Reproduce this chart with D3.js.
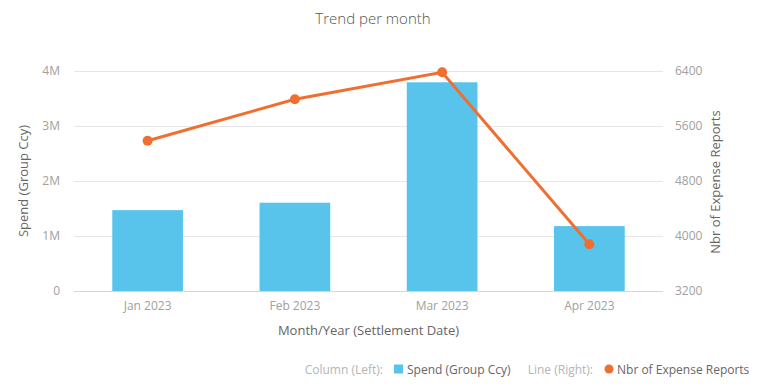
<!DOCTYPE html>
<html>
<head>
<meta charset="utf-8">
<script src="https://cdn.jsdelivr.net/npm/d3@7"></script>
<style>
  body { margin: 0; background: #fff; }
  text { font-family: "Open Sans", "Noto Sans", sans-serif; }
</style>
</head>
<body>
<div id="chart"></div>
<script>
// data
var months = ["Jan 2023", "Feb 2023", "Mar 2023", "Apr 2023"];
var spend = [1470000, 1605000, 3795000, 1180000];
var reports = [5386, 5988, 6381, 3879];
var leftTicks = [0, 1000000, 2000000, 3000000, 4000000];
var leftTickLabels = ["0", "1M", "2M", "3M", "4M"];
var rightTicks = [3200, 4000, 4800, 5600, 6400];

var svgWidth = 768;
var svgHeight = 388;

var margin = { top: 71, right: 105, bottom: 97, left: 74 };
var width = svgWidth - margin.left - margin.right;
var height = svgHeight - margin.top - margin.bottom;

var svg = d3.select("#chart")
  .append("svg")
  .attr("width", svgWidth)
  .attr("height", svgHeight);

var chartGroup = svg.append("g")
  .attr("transform", `translate(${margin.left}, ${margin.top})`);

// scales
var xBand = d3.scaleBand()
  .domain(months)
  .range([0, width])
  .paddingInner(0.52)
  .paddingOuter(0.26);

var xCenter = d => xBand(d) + xBand.bandwidth() / 2;

var yLeft = d3.scaleLinear()
  .domain([0, 4000000])
  .range([height, 0]);

var yRight = d3.scaleLinear()
  .domain([3200, 6400])
  .range([height, 0]);

// gridlines
chartGroup.append("g")
  .selectAll("line")
  .data(leftTicks)
  .enter()
  .append("line")
  .attr("x1", 0)
  .attr("x2", width)
  .attr("y1", d => Math.round(yLeft(d)) + 0.5)
  .attr("y2", d => Math.round(yLeft(d)) + 0.5)
  .attr("stroke", d => d === 0 ? "#d6d6d6" : "#e6e6e6")
  .attr("stroke-width", 1);

// left axis
var leftAxis = d3.axisLeft(yLeft)
  .tickValues(leftTicks)
  .tickFormat((d, i) => leftTickLabels[i])
  .tickSize(0)
  .tickPadding(14);

var gl = chartGroup.append("g").call(leftAxis);
gl.select(".domain").remove();
gl.selectAll("text")
  .attr("fill", "#a0a0a0")
  .style("font-size", "12px");

// right axis
var rightAxis = d3.axisRight(yRight)
  .tickValues(rightTicks)
  .tickFormat(d3.format("d"))
  .tickSize(0)
  .tickPadding(12);

var gr = chartGroup.append("g")
  .attr("transform", `translate(${width}, 0)`)
  .call(rightAxis);
gr.select(".domain").remove();
gr.selectAll("text")
  .attr("fill", "#a0a0a0")
  .style("font-size", "12px");

// bottom axis
var bottomAxis = d3.axisBottom(xBand)
  .tickSize(0)
  .tickPadding(10);

var gb = chartGroup.append("g")
  .attr("transform", `translate(0, ${height})`)
  .call(bottomAxis);
gb.select(".domain").remove();
gb.selectAll("text")
  .attr("fill", "#a0a0a0")
  .style("font-size", "12px");

// bars
chartGroup.selectAll("rect.bar")
  .data(spend)
  .enter()
  .append("rect")
  .attr("class", "bar")
  .attr("x", (d, i) => xBand(months[i]))
  .attr("y", d => yLeft(d))
  .attr("width", xBand.bandwidth())
  .attr("height", d => height - yLeft(d))
  .attr("fill", "#58c4eb");

// line
var line = d3.line()
  .x((d, i) => xCenter(months[i]))
  .y(d => yRight(d));

chartGroup.append("path")
  .datum(reports)
  .attr("d", line)
  .attr("fill", "none")
  .attr("stroke", "#f06f30")
  .attr("stroke-width", 3);

chartGroup.selectAll("circle.pt")
  .data(reports)
  .enter()
  .append("circle")
  .attr("class", "pt")
  .attr("cx", (d, i) => xCenter(months[i]))
  .attr("cy", d => yRight(d))
  .attr("r", 5)
  .attr("fill", "#f06f30");

// title
svg.append("text")
  .attr("x", 373)
  .attr("y", 24)
  .attr("text-anchor", "middle")
  .attr("fill", "#555")
  .style("font-size", "15px")
  .style("font-weight", 300)
  .text("Trend per month");

// axis titles
svg.append("text")
  .attr("transform", `translate(28, 181) rotate(-90)`)
  .attr("text-anchor", "middle")
  .attr("fill", "#666")
  .style("font-size", "13px")
  .text("Spend (Group Ccy)");

svg.append("text")
  .attr("transform", `translate(720, 182) rotate(-90)`)
  .attr("text-anchor", "middle")
  .attr("fill", "#666")
  .style("font-size", "13px")
  .text("Nbr of Expense Reports");

svg.append("text")
  .attr("x", margin.left + width / 2)
  .attr("y", 335)
  .attr("text-anchor", "middle")
  .attr("fill", "#666")
  .style("font-size", "13px")
  .text("Month/Year (Settlement Date)");

// legend
var legend = svg.append("g").attr("transform", "translate(0, 374)");
legend.append("text")
  .attr("x", 383).attr("y", 0)
  .attr("text-anchor", "end")
  .attr("fill", "#b5b5b5")
  .style("font-size", "12px")
  .text("Column (Left):");
legend.append("rect")
  .attr("x", 394).attr("y", -9.5)
  .attr("width", 9).attr("height", 9)
  .attr("fill", "#58c4eb");
legend.append("text")
  .attr("x", 407).attr("y", 0)
  .attr("fill", "#666")
  .style("font-size", "12px")
  .text("Spend (Group Ccy)");
legend.append("text")
  .attr("x", 593).attr("y", 0)
  .attr("text-anchor", "end")
  .attr("fill", "#b5b5b5")
  .style("font-size", "12px")
  .text("Line (Right):");
legend.append("circle")
  .attr("cx", 609).attr("cy", -5)
  .attr("r", 4.5)
  .attr("fill", "#f06f30");
legend.append("text")
  .attr("x", 617).attr("y", 0)
  .attr("fill", "#666")
  .style("font-size", "12px")
  .text("Nbr of Expense Reports");
</script>
</body>
</html>
